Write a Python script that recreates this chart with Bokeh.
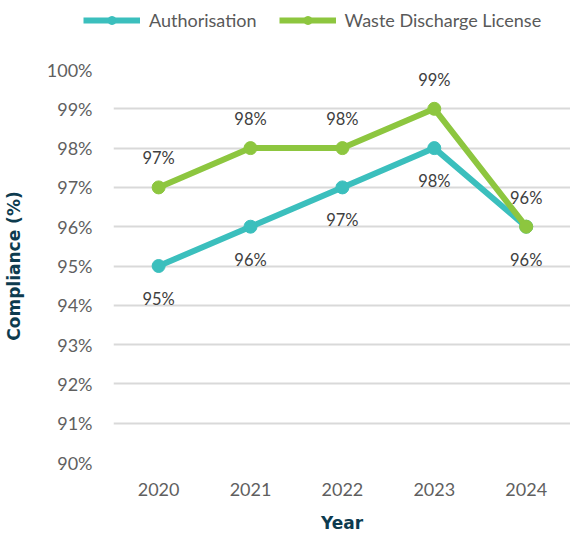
from bokeh.plotting import figure
from bokeh.layouts import column, row
from bokeh.models import Range1d, FixedTicker, Legend, LegendItem, ColumnDataSource
from bokeh.core.properties import value
from bokeh.embed import file_html
from bokeh.resources import INLINE

years = [2020, 2021, 2022, 2023, 2024]
authorisation = [95, 96, 97, 98, 96]
waste_discharge = [97, 98, 98, 99, 96]
series_names = ["Authorisation", "Waste Discharge License"]
y_ticks = [90, 91, 92, 93, 94, 95, 96, 97, 98, 99, 100]
y_tick_labels = [f"{t}%" for t in y_ticks]

TEAL = "#3bbfbd"
GREEN = "#8dc63f"
FONT = "Lato"
TITLE_FONT = "DejaVu Sans"

p = figure(width=570, height=495, output_backend="svg", toolbar_location=None,
           x_range=Range1d(2019.509, 2024.482), y_range=Range1d(90, 100),
           min_border_left=107, min_border_right=0, min_border_top=29, min_border_bottom=71)
p.outline_line_color = None

p.xaxis.ticker = FixedTicker(ticks=years)
p.xaxis.major_label_overrides = {y: str(y) for y in years}
p.yaxis.ticker = FixedTicker(ticks=y_ticks)
p.yaxis.major_label_overrides = {t: l for t, l in zip(y_ticks, y_tick_labels)}
for ax in (p.xaxis, p.yaxis):
    ax.axis_line_color = None
    ax.major_tick_line_color = None
    ax.minor_tick_line_color = None
    ax.major_label_text_font = FONT
    ax.major_label_text_font_size = "18px"
    ax.major_label_text_color = "#5f5f5f"
    ax.axis_label_text_font = TITLE_FONT
    ax.axis_label_text_font_style = "bold"
    ax.axis_label_text_font_size = "17px"
    ax.axis_label_text_color = "#0d3b4f"
p.yaxis.major_label_standoff = 15
p.xaxis.major_label_standoff = 14
p.yaxis.axis_label = "Compliance (%)"
p.xaxis.axis_label = "Year"
p.xaxis.axis_label_standoff = 14
p.yaxis.axis_label_standoff = 20

p.xgrid.grid_line_color = None
p.ygrid.ticker = FixedTicker(ticks=y_ticks)
p.ygrid.grid_line_color = "#d9d9d9"
p.ygrid.grid_line_width = 2

src = ColumnDataSource(dict(x=years, a=authorisation, w=waste_discharge,
                            al=[f"{v}%" for v in authorisation],
                            wl=[f"{v}%" for v in waste_discharge]))

p.line("x", "a", source=src, line_color=TEAL, line_width=6)
p.scatter("x", "a", source=src, size=13, fill_color=TEAL, line_color=TEAL)
p.line("x", "w", source=src, line_color=GREEN, line_width=6)
p.scatter("x", "w", source=src, size=13, fill_color=GREEN, line_color=GREEN)

p.text("x", "a", text="al", source=src, y_offset=33, text_align="center",
       text_baseline="middle", text_font=value(FONT), text_font_size="16.5px",
       text_color="#404040")
p.text("x", "w", text="wl", source=src, y_offset=-29, text_align="center",
       text_baseline="middle", text_font=value(FONT), text_font_size="16.5px",
       text_color="#404040")

# legend strip above the chart (its dummy marks sit outside its visible range)
lg = figure(width=570, height=40, output_backend="svg", toolbar_location=None,
            x_range=Range1d(0, 1), y_range=Range1d(0, 1),
            x_axis_type=None, y_axis_type=None,
            min_border_left=0, min_border_right=0, min_border_top=0, min_border_bottom=0)
lg.grid.grid_line_color = None
lg.outline_line_color = None
hidden = ColumnDataSource(dict(x=[-10, -11], y=[-10, -11]))
la = lg.line("x", "y", source=hidden, line_color=TEAL, line_width=6)
ca = lg.scatter("x", "y", source=hidden, size=11, fill_color=TEAL, line_color=TEAL)
lw = lg.line("x", "y", source=hidden, line_color=GREEN, line_width=6)
cw = lg.scatter("x", "y", source=hidden, size=11, fill_color=GREEN, line_color=GREEN)

legend = Legend(items=[LegendItem(label=series_names[0], renderers=[la, ca]),
                       LegendItem(label=series_names[1], renderers=[lw, cw])],
                orientation="horizontal", location=(83, 9),
                label_text_font=FONT, label_text_font_size="18px",
                label_text_color="#595959", glyph_width=57, glyph_height=20,
                spacing=22, label_standoff=9, border_line_color=None,
                background_fill_alpha=0, padding=4, margin=0)
lg.add_layout(legend, "center")

layout = column(row(lg), p, spacing=0)
open("out.html", "w").write(file_html(layout, INLINE))
